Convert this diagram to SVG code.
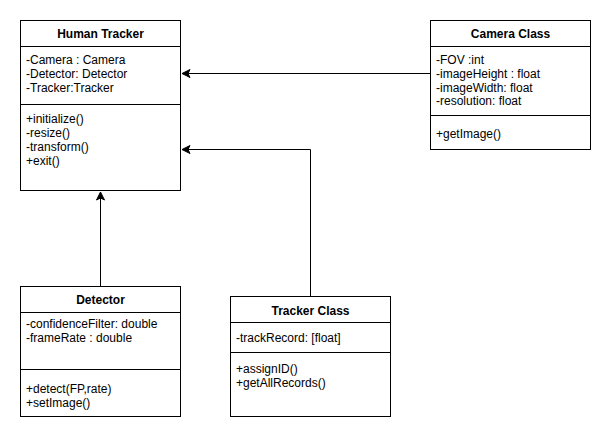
<svg xmlns="http://www.w3.org/2000/svg" width="611" height="440" viewBox="0 0 611 440">
<style>
.box{fill:#fff;stroke:#000;stroke-width:1}
.ln{stroke:#000;stroke-width:1;fill:none}
text{font-family:"Liberation Sans",Arial,sans-serif;font-size:12px;fill:#000}
.t{font-weight:bold;text-anchor:middle}
.edge{stroke:#000;stroke-width:1;fill:none;marker-end:url(#arr)}
</style>
<defs>
<marker id="arr" markerUnits="userSpaceOnUse" markerWidth="10" markerHeight="10" viewBox="-9 -5 10 10" refX="0" refY="0" orient="auto">
<path d="M0,0 L-8,-4 L-6,0 L-8,4 Z" fill="#000" stroke="#000" stroke-width="1"/>
</marker>
</defs>
<rect width="611" height="440" fill="#fff"/>
<g id="connectors">
<path class="edge" d="M430.5,73.5 H182"/>
<path class="edge" d="M310.5,296 V149.5 H182"/>
<path class="edge" d="M100.5,286 V192"/>
</g>
<g id="human-tracker">
<rect class="box" x="20.5" y="20.5" width="160" height="170"/>
<path class="ln" d="M20.5,46.5 H180.5 M20.5,104.5 H180.5"/>
<text class="t" x="100.5" y="38">Human Tracker</text>
<text x="26" y="64">-Camera : Camera</text>
<text x="26" y="78">-Detector: Detector</text>
<text x="26" y="92">-Tracker:Tracker</text>
<text x="26" y="123">+initialize()</text>
<text x="26" y="137">-resize()</text>
<text x="26" y="151">-transform()</text>
<text x="26" y="165">+exit()</text>
</g>
<g id="camera-class">
<rect class="box" x="430.5" y="20.5" width="160" height="129"/>
<path class="ln" d="M430.5,46.5 H590.5 M430.5,115.5 H590.5"/>
<text class="t" x="510.5" y="38">Camera Class</text>
<text x="436" y="64">-FOV :int</text>
<text x="436" y="78">-imageHeight : float</text>
<text x="436" y="91.5">-imageWidth: float</text>
<text x="436" y="105">-resolution: float</text>
<text x="436" y="138">+getImage()</text>
</g>
<g id="detector">
<rect class="box" x="20.5" y="286.5" width="160" height="130"/>
<path class="ln" d="M20.5,312.5 H180.5 M20.5,369.5 H180.5"/>
<text class="t" x="100.5" y="304">Detector</text>
<text x="26" y="328">-confidenceFilter: double</text>
<text x="26" y="342">-frameRate : double</text>
<text x="26" y="393">+detect(FP,rate)</text>
<text x="26" y="407">+setImage()</text>
</g>
<g id="tracker-class">
<rect class="box" x="230.5" y="296.5" width="160" height="120"/>
<path class="ln" d="M230.5,322.5 H390.5 M230.5,352.5 H390.5"/>
<text class="t" x="310.5" y="314.5">Tracker Class</text>
<text x="236" y="342">-trackRecord: [float]</text>
<text x="236" y="373">+assignID()</text>
<text x="236" y="387">+getAllRecords()</text>
</g>
</svg>
